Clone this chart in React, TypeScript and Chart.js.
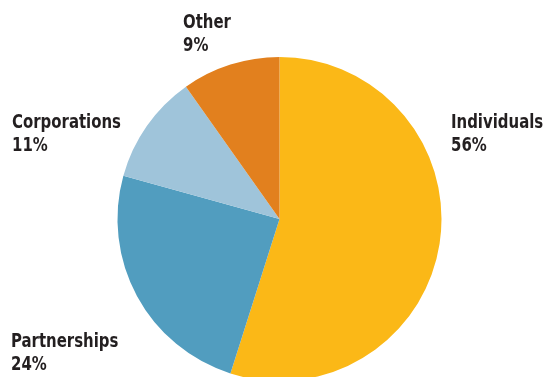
import React, { useEffect, useRef } from "react";
import { Chart, registerables } from "chart.js";

Chart.register(...registerables);

const categories = ["Individuals", "Partnerships", "Corporations", "Other"];
const values = [54.9, 24.4, 10.9, 9.8];
const labelPercents = ["56%", "24%", "11%", "9%"];
const colors = ["#FBB817", "#519DBF", "#9FC4DA", "#E2801E"];

// label anchor positions (left x, first-line baseline y)
const labelPos: Record<string, [number, number]> = {
  Individuals: [451, 128],
  Partnerships: [11, 347],
  Corporations: [12, 128],
  Other: [183, 28],
};

const labelPlugin = {
  id: "sliceLabels",
  afterDraw(chart: any) {
    const ctx = chart.ctx as CanvasRenderingContext2D;
    ctx.save();
    ctx.fillStyle = "#231F20";
    ctx.font = "bold 20px 'DejaVu Sans Condensed', 'Liberation Sans Narrow', sans-serif";
    ctx.textAlign = "left";
    ctx.textBaseline = "alphabetic";
    const sx = 109 / ctx.measureText("Corporations").width;
    categories.forEach((c, i) => {
      const [x, y] = labelPos[c];
      ctx.save();
      ctx.translate(x, 0);
      ctx.scale(sx, 1);
      ctx.fillText(c, 0, y);
      ctx.fillText(labelPercents[i], 0, y + 23);
      ctx.restore();
    });
    ctx.restore();
  },
};

export default function App() {
  const ref = useRef<HTMLCanvasElement>(null);
  useEffect(() => {
    if (!ref.current) return;
    const chart = new Chart(ref.current, {
      type: "pie",
      data: {
        labels: categories,
        datasets: [
          {
            data: values,
            backgroundColor: colors,
            borderWidth: 0,
          },
        ],
      },
      options: {
        responsive: false,
        animation: false,
        devicePixelRatio: 1,
        layout: { padding: { left: 117.5, right: 104.5, top: 57, bottom: 59 } },
        plugins: { legend: { display: false }, tooltip: { enabled: false } },
      },
      plugins: [labelPlugin],
    });
    return () => chart.destroy();
  }, []);
  return (
    <div
      style={{
        position: "fixed",
        left: 0,
        top: 0,
        width: 546,
        height: 377,
        overflow: "hidden",
        background: "#fff",
      }}
    >
      <canvas ref={ref} width={546} height={440} style={{ display: "block", width: 546, height: 440 }} />
    </div>
  );
}
